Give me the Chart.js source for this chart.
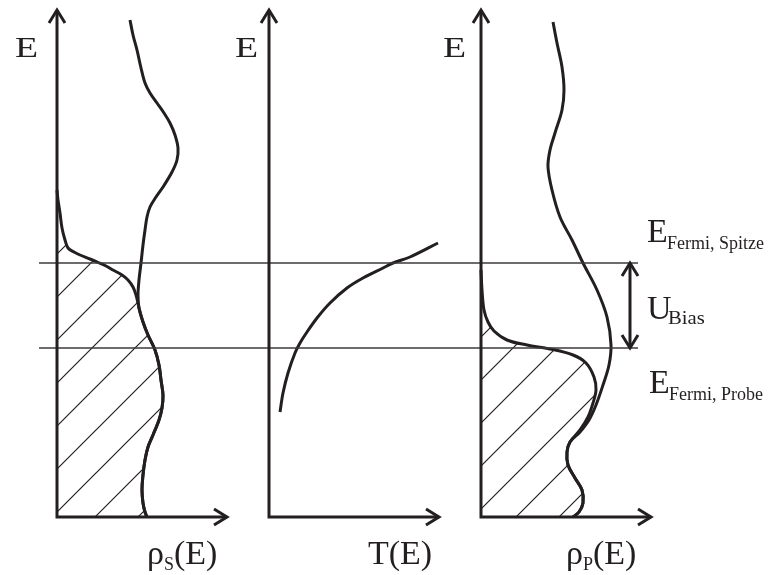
<!DOCTYPE html>
<html>
<head>
<meta charset="utf-8">
<title>Tunnelkontakt: Zustandsdichten</title>
<script src="https://cdn.jsdelivr.net/npm/chart.js@4.4.1/dist/chart.umd.min.js"></script>
<style>
  html, body { margin: 0; padding: 0; background: #fff; }
  canvas { display: block; }
</style>
</head>
<body>
<canvas id="tunnel" width="770" height="575"></canvas>
<script>
// Energien in willkürlichen Einheiten, 0 = Achsenursprung
const fermiSpitze = 254;
const fermiProbe = 169;

// Zustandsdichte der Spitze rho_S(E)
const spitzeE = [497, 482, 467, 449, 434, 424, 414, 404, 394, 382, 369, 357, 345, 330, 320, 310, 300, 287, 272, 254,
  237, 222, 209, 195, 182, 167, 152, 137, 122, 109, 97, 82, 70, 57, 42, 27, 14, 5, 0];
const spitzeRho = [73, 76, 80, 84, 88, 93, 100, 107, 113, 118, 121, 120, 115, 106, 99, 93, 90, 88, 86, 84,
  82, 81, 82, 86, 91, 98, 102, 104, 106, 105, 102, 96, 91, 88, 86, 85, 86, 88, 90];

// besetzte Zustände der Spitze (schraffiert)
const spitzeBesetztE = [327, 317, 304, 289, 277, 269, 265, 262, 258, 255, 251, 247, 242, 237, 230, 222, 214, 209,
  195, 182, 167, 152, 137, 122, 109, 97, 82, 70, 57, 42, 27, 14, 5, 0];
const spitzeBesetztRho = [0, 1, 3, 5, 8, 11, 17, 23, 33, 40, 49, 56, 65, 71, 76, 79, 81, 82,
  86, 91, 98, 102, 104, 106, 105, 102, 96, 91, 88, 86, 85, 86, 88, 90];

// Transmissionskoeffizient T(E)
const transE = [105, 124, 144, 164, 174, 185, 199, 214, 229, 239, 249, 254, 260, 274];
const transT = [11, 14, 19, 26, 31, 38, 48, 61, 78, 94, 114, 124, 141, 169];

// Zustandsdichte der Probe rho_P(E)
const probeE = [495, 474, 450, 427, 407, 384, 367, 350, 327, 300, 277, 254, 227, 200, 172, 152, 132, 112, 97, 85,
  75, 65, 52, 39, 27, 14, 5, 0];
const probeRho = [72, 76, 81, 83, 81, 74, 69, 67, 71, 79, 91, 102, 116, 126, 130, 128, 122, 115, 108, 99,
  89, 86, 87, 94, 101, 102, 98, 92];

// besetzte Zustände der Probe
const probeBesetztE = [247, 227, 207, 195, 186, 177, 172, 168, 162, 154, 140, 127, 114, 100, 87,
  75, 65, 52, 39, 27, 14, 5, 0];
const probeBesetztRho = [0, 1, 3, 7, 13, 26, 46, 69, 92, 105, 113, 115, 112, 107, 99,
  89, 86, 87, 94, 101, 102, 98, 92];

// Anordnung der drei Teilbilder
const panelX = [57, 269, 481];
const axisLen = 170;
const axisTop = 507;
const ink = '#231f20';
const serif = '"Liberation Serif", "Times New Roman", serif';

const toPoints = (es, vs, x0) => es.map((e, i) => ({ x: x0 + vs[i], y: e }));

// Schraffur: Diagonalen im Abstand 43 px, Phase verschiebbar
function hatch(shift) {
  const c = document.createElement('canvas');
  c.width = c.height = 43;
  const g = c.getContext('2d');
  g.strokeStyle = ink;
  g.lineWidth = 1.2;
  g.beginPath();
  for (const k of [0, 43, 86]) {
    g.moveTo(k + 2, -2);
    g.lineTo(-2, k + 2);
  }
  g.stroke();
  const p = g.createPattern(c, 'repeat');
  p.setTransform(new DOMMatrix().translate(shift, 0));
  return p;
}

function curve(points, extra) {
  return Object.assign({
    data: points,
    borderColor: ink,
    borderWidth: 3,
    tension: 0.35,
    pointRadius: 0,
    fill: false,
    borderJoinStyle: 'round',
  }, extra || {});
}

const fermiLine = (e) => ({
  data: [{ x: panelX[0] - 18, y: e }, { x: panelX[2] + 157, y: e }],
  borderColor: '#3c3a3b',
  borderWidth: 1.3,
  pointRadius: 0,
  fill: false,
});

// Achsen, Pfeile und Beschriftung
const schema = {
  id: 'schema',
  afterDatasetsDraw(chart) {
    const { ctx, scales: { x, y } } = chart;
    const px = (v) => x.getPixelForValue(v);
    const py = (e) => y.getPixelForValue(e);

    const chevron = (tx, ty, dx, dy) => {
      // dx, dy: Richtung der Pfeilspitze
      const l = 13, w = 8;
      ctx.beginPath();
      ctx.moveTo(tx - dx * l - dy * w, ty - dy * l - dx * w);
      ctx.lineTo(tx, ty);
      ctx.lineTo(tx - dx * l + dy * w, ty - dy * l + dx * w);
      ctx.stroke();
    };

    const label = (str, lx, ly, size, sx = 1, sy = 1) => {
      ctx.save();
      ctx.translate(lx, ly);
      ctx.scale(sx, sy);
      ctx.font = `${size}px ${serif}`;
      ctx.fillStyle = ink;
      ctx.textBaseline = 'alphabetic';
      ctx.fillText(str, 0, 0);
      const w = ctx.measureText(str).width * sx;
      ctx.restore();
      return w;
    };

    ctx.save();
    ctx.strokeStyle = ink;
    ctx.lineWidth = 3;
    ctx.lineJoin = 'miter';
    ctx.lineCap = 'butt';

    panelX.forEach((x0) => {
      const ox = px(x0), oy = py(0);
      ctx.beginPath();
      ctx.moveTo(ox, py(axisTop));
      ctx.lineTo(ox, oy);
      ctx.lineTo(px(x0 + axisLen), oy);
      ctx.stroke();
      chevron(ox, py(axisTop), 0, -1);
      chevron(px(x0 + axisLen), oy, 1, 0);
    });

    // Doppelpfeil U_Bias zwischen den Fermi-Niveaus
    const bx = px(panelX[2] + 149);
    ctx.beginPath();
    ctx.moveTo(bx, py(fermiSpitze));
    ctx.lineTo(bx, py(fermiProbe));
    ctx.stroke();
    chevron(bx, py(fermiSpitze), 0, -1);
    chevron(bx, py(fermiProbe), 0, 1);
    ctx.restore();

    // E an den Ordinaten
    [-42, -34, -38].forEach((d, i) => label('E', px(panelX[i] + d), 57, 36, 1.05, 0.82));

    // Abszissen
    let w = label('\u03c1', px(panelX[0] + 90), 564, 34);
    w += label('S', px(panelX[0] + 90) + w, 570, 18);
    label('(E)', px(panelX[0] + 90) + w, 564, 34);

    label('T(E)', px(panelX[1] + 99), 564, 34);

    w = label('\u03c1', px(panelX[2] + 85), 564, 34);
    w += label('P', px(panelX[2] + 85) + w, 570, 18);
    label('(E)', px(panelX[2] + 85) + w, 564, 34);

    // rechte Beschriftung
    const rx = px(panelX[2] + 166);
    label('E', rx, py(fermiSpitze) - 21, 34);
    label('Fermi, Spitze', rx + 20, py(fermiSpitze) - 14, 18);
    const mid = (py(fermiSpitze) + py(fermiProbe)) / 2;
    label('U', rx, mid + 13, 34);
    label('Bias', rx + 21, mid + 18, 18, 1.15, 1);
    label('E', rx + 2, py(fermiProbe) + 45, 34);
    label('Fermi, Probe', rx + 22, py(fermiProbe) + 52, 18);
  },
};

new Chart(document.getElementById('tunnel'), {
  type: 'line',
  data: {
    datasets: [
      fermiLine(fermiSpitze),
      fermiLine(fermiProbe),
      curve(toPoints(spitzeBesetztE, spitzeBesetztRho, panelX[0]),
        { fill: { value: panelX[0] }, backgroundColor: hatch(10) }),
      curve(toPoints(spitzeE, spitzeRho, panelX[0])),
      curve(toPoints(transE, transT, panelX[1])),
      curve(toPoints(probeBesetztE, probeBesetztRho, panelX[2]),
        { fill: { value: panelX[2] }, backgroundColor: hatch(1) }),
      curve(toPoints(probeE, probeRho, panelX[2])),
    ],
  },
  options: {
    indexAxis: 'y',
    responsive: false,
    animation: false,
    events: [],
    layout: { padding: 0 },
    scales: {
      x: { type: 'linear', min: 0, max: 770, display: false },
      y: { type: 'linear', min: -58, max: 517, display: false },
    },
    plugins: {
      legend: { display: false },
      tooltip: { enabled: false },
    },
  },
  plugins: [schema],
});
</script>
</body>
</html>
